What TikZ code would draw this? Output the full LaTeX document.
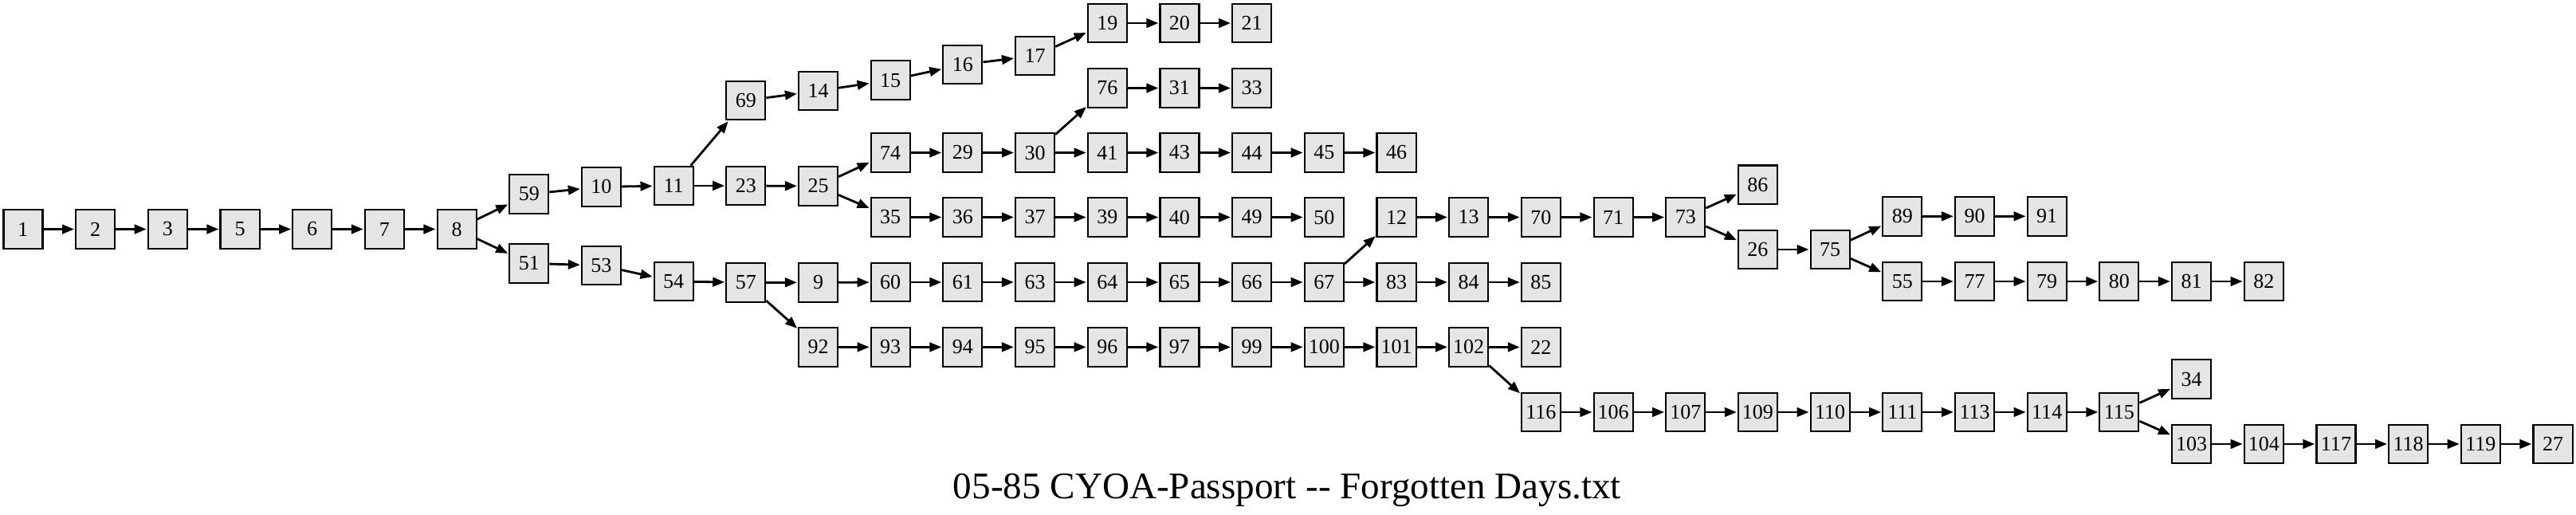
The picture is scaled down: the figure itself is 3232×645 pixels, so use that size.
\documentclass[tikz,border=0pt]{standalone}
\usepackage{fontspec}
\setmainfont{Liberation Serif}
\usetikzlibrary{arrows.meta}
\definecolor{boxfill}{RGB}{229,229,229}
\newcommand{\gnode}[3]{\node[nb] (n#1) at ({29+90.686*#2},#3) {#1};}
\tikzset{
  nb/.style={draw=black, fill=boxfill, line width=0.6pt, minimum width=0.49cm, minimum height=0.485cm, inner sep=0pt, font=\fontsize{7.4}{8}\selectfont},
  ed/.style={line width=0.8pt, -{Triangle[length=0.15cm,width=0.115cm]}, shorten >=0.3pt}
}
\begin{document}
\begin{tikzpicture}[x=0.01cm, y=-0.01cm]
\useasboundingbox (0,0) rectangle (3232,645);
% rank-based nodes
\gnode{1}{0}{287.5}
\gnode{2}{1}{287.5}
\gnode{3}{2}{287.5}
\gnode{5}{3}{287.5}
\gnode{6}{4}{287.5}
\gnode{7}{5}{287.5}
\gnode{8}{6}{287.5}
\gnode{59}{7}{243.5}
\gnode{51}{7}{330.3}
\gnode{10}{8}{234.3}
\gnode{53}{8}{333}
\gnode{11}{9}{233}
\gnode{54}{9}{353}
\gnode{69}{10}{126}
\gnode{23}{10}{233}
\gnode{57}{10}{354.3}
\gnode{14}{11}{114}
\gnode{25}{11}{233.5}
\gnode{9}{11}{354.3}
\gnode{92}{11}{435.4}
\gnode{15}{12}{100.6}
\gnode{74}{12}{191.5}
\gnode{35}{12}{272.5}
\gnode{60}{12}{354}
\gnode{93}{12}{435.4}
\gnode{16}{13}{81}
\gnode{29}{13}{191.5}
\gnode{36}{13}{272.5}
\gnode{61}{13}{354}
\gnode{94}{13}{435.4}
\gnode{17}{14}{70}
\gnode{30}{14}{191.5}
\gnode{37}{14}{272.5}
\gnode{63}{14}{354}
\gnode{95}{14}{435.4}
\gnode{19}{15}{29}
\gnode{76}{15}{110.5}
\gnode{41}{15}{191.5}
\gnode{39}{15}{272.5}
\gnode{64}{15}{354}
\gnode{96}{15}{435.4}
\gnode{20}{16}{29}
\gnode{31}{16}{110.5}
\gnode{43}{16}{191.5}
\gnode{40}{16}{272.5}
\gnode{65}{16}{354}
\gnode{97}{16}{435.4}
\gnode{21}{17}{29}
\gnode{33}{17}{110.5}
\gnode{44}{17}{191.5}
\gnode{49}{17}{272.5}
\gnode{66}{17}{354}
\gnode{99}{17}{435.4}
\gnode{45}{18}{191.5}
\gnode{50}{18}{272.5}
\gnode{67}{18}{354}
\gnode{100}{18}{435.4}
\gnode{46}{19}{191.5}
\gnode{12}{19}{272.5}
\gnode{83}{19}{354}
\gnode{101}{19}{435.4}
\gnode{13}{20}{272.5}
\gnode{84}{20}{354}
\gnode{102}{20}{435.4}
\gnode{70}{21}{272.5}
\gnode{85}{21}{354}
\gnode{22}{21}{435.4}
\gnode{116}{21}{517}
\gnode{71}{22}{272.5}
\gnode{106}{22}{517}
\gnode{73}{23}{272.5}
\gnode{107}{23}{517}
\gnode{86}{24}{231.8}
\gnode{26}{24}{313}
\gnode{109}{24}{517}
\gnode{75}{25}{313}
\gnode{110}{25}{517}
\gnode{89}{26}{271.3}
\gnode{55}{26}{353}
\gnode{111}{26}{517}
\gnode{90}{27}{271.3}
\gnode{77}{27}{353}
\gnode{113}{27}{517}
\gnode{91}{28}{271.3}
\gnode{79}{28}{353}
\gnode{114}{28}{517}
\gnode{80}{29}{353}
\gnode{115}{29}{517}
\gnode{81}{30}{353}
\gnode{34}{30}{475.7}
\gnode{103}{30}{557}
\gnode{82}{31}{353}
\gnode{104}{31}{557}
\gnode{117}{32}{557}
\gnode{118}{33}{557}
\gnode{119}{34}{557}
\gnode{27}{35}{557}
% edges
\foreach \a/\b in {1/2,2/3,3/5,5/6,6/7,7/8,8/59,8/51,59/10,10/11,11/69,11/23,69/14,14/15,15/16,16/17,17/19,19/20,20/21,23/25,25/74,25/35,74/29,29/30,30/76,30/41,76/31,31/33,41/43,43/44,44/45,45/46,35/36,36/37,37/39,39/40,40/49,49/50,51/53,53/54,54/57,57/9,57/92,9/60,60/61,61/63,63/64,64/65,65/66,66/67,67/12,67/83,12/13,13/70,70/71,71/73,73/86,73/26,26/75,75/89,75/55,89/90,90/91,55/77,77/79,79/80,80/81,81/82,83/84,84/85,92/93,93/94,94/95,95/96,96/97,97/99,99/100,100/101,101/102,102/22,102/116,116/106,106/107,107/109,109/110,110/111,111/113,113/114,114/115,115/34,115/103,103/104,104/117,117/118,118/119,119/27}
  \draw[ed] (n\a) -- (n\b);
% title
\node[anchor=base, font=\fontsize{13.4}{15}\selectfont, inner sep=0pt] (title) at (1615,625) {05-85 CYOA-Passport -{}- Forgotten Days.txt};
\end{tikzpicture}
\end{document}
